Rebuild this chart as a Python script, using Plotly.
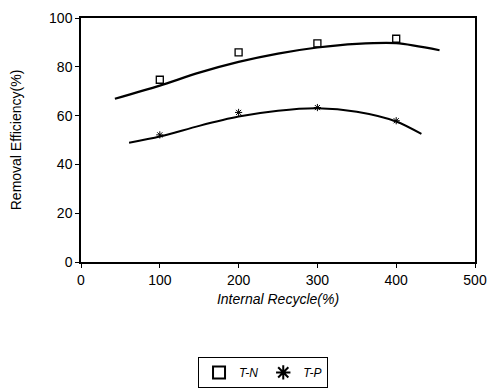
import plotly.graph_objects as go

# Measured data points
recycle = [100, 200, 300, 400]
tn_values = [74.7, 85.9, 89.6, 91.5]
tp_values = [52.1, 61.3, 63.3, 57.9]

# Fitted curves
tn_curve_x = [43, 100, 150, 200, 250, 300, 350, 400, 455]
tn_curve_y = [66.9, 72.3, 77.6, 82.0, 85.4, 87.9, 89.4, 89.7, 86.8]
tp_curve_x = [61, 100, 150, 200, 250, 300, 350, 400, 432]
tp_curve_y = [48.9, 51.4, 55.8, 59.6, 62.0, 63.0, 61.6, 57.6, 52.5]

x_ticks = [0, 100, 200, 300, 400, 500]
y_ticks = [0, 20, 40, 60, 80, 100]

FONT = "Liberation Sans, Arial, sans-serif"

fig = go.Figure()
fig.add_trace(go.Scatter(x=tn_curve_x, y=tn_curve_y, mode="lines",
                         line=dict(color="black", width=2.2, shape="spline", smoothing=0.8),
                         showlegend=False, hoverinfo="skip"))
fig.add_trace(go.Scatter(x=tp_curve_x, y=tp_curve_y, mode="lines",
                         line=dict(color="black", width=2.0, shape="spline", smoothing=0.8),
                         showlegend=False, hoverinfo="skip"))
fig.add_trace(go.Scatter(x=recycle, y=tn_values, mode="markers", name="<i>T-N</i>",
                         marker=dict(symbol="square-open", size=7, color="black",
                                     line=dict(width=1.3, color="black"))))
fig.add_trace(go.Scatter(x=recycle, y=tp_values, mode="markers", name="<i>T-P</i>",
                         marker=dict(symbol="asterisk-open", size=6, color="black",
                                     line=dict(width=1.0, color="black"))))

fig.update_layout(
    width=480, height=396,
    margin=dict(l=73, r=13, t=10, b=142),
    paper_bgcolor="white", plot_bgcolor="white",
    font=dict(family=FONT, color="black", size=14),
    xaxis=dict(range=[0, 500], tickvals=x_ticks, ticks="outside", ticklen=4,
               tickcolor="black", showline=True, linecolor="black", linewidth=1.5,
               mirror=True, showgrid=False, zeroline=False, automargin=False,
               tickfont=dict(size=14, family=FONT),
               title=dict(text="<i>Internal Recycle(%)</i>", font=dict(size=14), standoff=8)),
    yaxis=dict(range=[0, 100], tickvals=y_ticks, ticks="outside", ticklen=4,
               tickcolor="black", showline=True, linecolor="black", linewidth=1.5,
               mirror=True, showgrid=False, zeroline=False, automargin=False,
               tickfont=dict(size=14, family=FONT),
               title=dict(text="Removal Efficiency(%)", font=dict(size=14), standoff=25)),
    legend=dict(orientation="h", x=0.462, xanchor="center", y=-0.389, yanchor="top",
                bordercolor="black", borderwidth=1, bgcolor="white",
                font=dict(size=12, family=FONT), itemsizing="constant",
                itemwidth=30, tracegroupgap=0),
)

fig.write_html("out.html")
